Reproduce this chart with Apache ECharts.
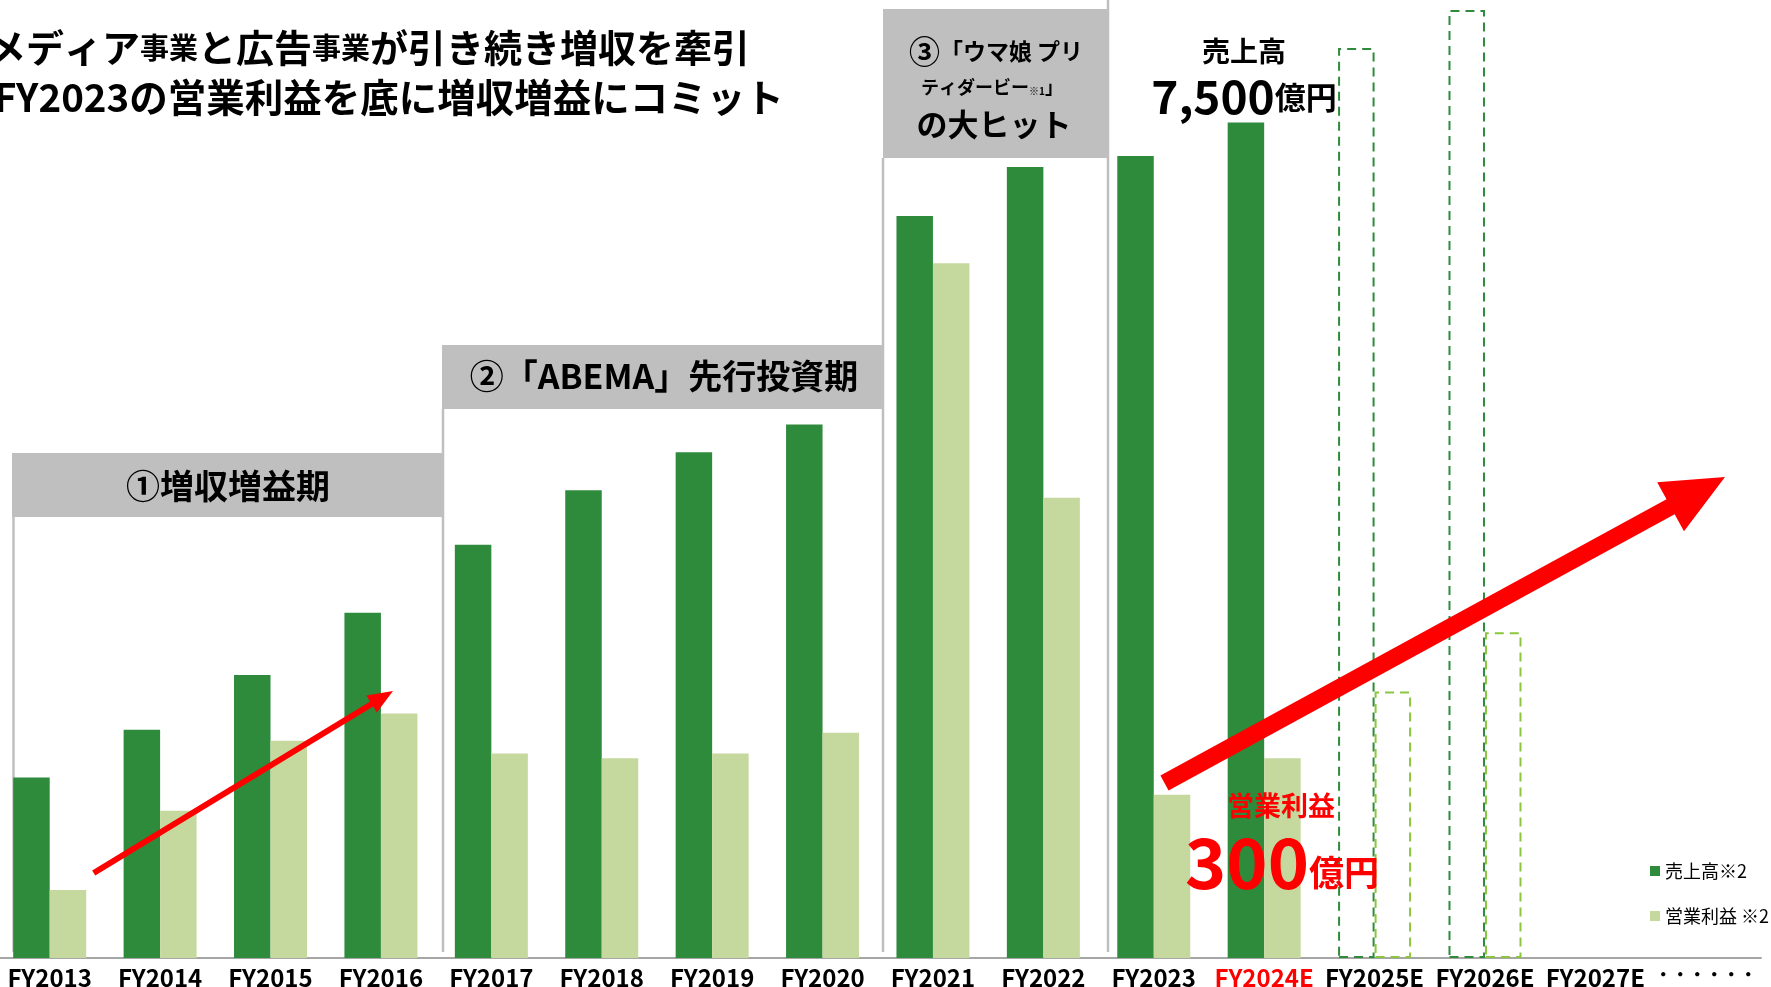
<!DOCTYPE html>
<html><head><meta charset="utf-8">
<script src="https://cdn.jsdelivr.net/npm/echarts@6/dist/echarts.min.js"></script>
<style>html,body{margin:0;padding:0;background:#fff}#c{width:1771px;height:987px}</style>
</head><body><div id="c"></div>
<script>
// ---- data (億円) ----
const categories = ['FY2013','FY2014','FY2015','FY2016','FY2017','FY2018','FY2019','FY2020','FY2021','FY2022','FY2023','FY2024E','FY2025E','FY2026E','FY2027E','・・・・・・'];
const revenue = [1620,2050,2540,3100,3710,4200,4540,4790,6660,7100,7200,7500,8170,8510,null,null];
const operatingProfit = [102,221,326,367,307,300,307,338,1043,691,245,300,400,489,null,null];
const forecastCategories = ['FY2025E','FY2026E'];
const highlightCategory = 'FY2024E';
const seriesNames = ['売上高※2','営業利益 ※2'];

const FONT = '"Noto Sans CJK JP","Noto Sans",sans-serif';
const DARK = '#2E8B3C', LIGHT = '#C5D89E', LIGHT_DASH = '#8CC63F', RED = '#FF0000', BOXGRAY = '#BFBFBF';

function buildData(values, dashColor){
  return values.map((v,i)=> forecastCategories.includes(categories[i])
    ? {value:v, itemStyle:{color:'rgba(255,255,255,0)', borderColor:dashColor, borderWidth:2, borderType:[9,6]}}
    : v);
}
function arrow(x1,y1,x2,y2,shaft,headLen,headW){
  const dx=x2-x1, dy=y2-y1, L=Math.hypot(dx,dy), ux=dx/L, uy=dy/L, px=-uy, py=ux;
  const bx=x2-ux*headLen, by=y2-uy*headLen;
  return [[x1+px*shaft/2,y1+py*shaft/2],[bx+px*shaft/2,by+py*shaft/2],[bx+px*headW/2,by+py*headW/2],[x2,y2],
          [bx-px*headW/2,by-py*headW/2],[bx-px*shaft/2,by-py*shaft/2],[x1-px*shaft/2,y1-py*shaft/2]];
}
const vline = (x,y1,y2)=>({type:'line',z:1,shape:{x1:x,y1:y1,x2:x,y2:y2},style:{stroke:BOXGRAY,lineWidth:2.5}});

const chart = echarts.init(document.getElementById('c'));
chart.setOption({
  animation:false,
  backgroundColor:'#fff',
  grid:{left:-5.5,right:10,top:0,bottom:29,containLabel:false,outerBoundsMode:'none'},
  legend:{data:seriesNames,orient:'vertical',left:1645,top:857,itemWidth:10,itemHeight:10,itemGap:27,icon:'rect',
    textStyle:{fontFamily:FONT,fontSize:18,color:'#000'}},
  xAxis:{type:'category',
    data:categories.map(c=> c===highlightCategory ? {value:c,textStyle:{color:RED}} : (c.startsWith('FY')? c : {value:c,textStyle:{fontSize:17}})),
    axisLine:{lineStyle:{color:'#A6A6A6',width:2}},axisTick:{show:false},
    axisLabel:{interval:0,margin:8,fontFamily:FONT,fontSize:24,fontWeight:'bold',color:'#000'}},
  yAxis:[{type:'value',min:0,max:8600,show:false},{type:'value',min:0,max:1438,show:false}],
  series:[
    {name:seriesNames[0],type:'bar',yAxisIndex:0,barWidth:36.5,barGap:'0%',itemStyle:{color:DARK},data:buildData(revenue,DARK)},
    {name:seriesNames[1],type:'bar',yAxisIndex:1,barWidth:36.5,barGap:'0%',itemStyle:{color:LIGHT},data:buildData(operatingProfit,LIGHT_DASH)}
  ],
  graphic:[
    // title
    {type:'text',left:-12,top:29,z:50,style:{rich:{b:{fontSize:38,fontWeight:'bold',fontFamily:FONT,fill:'#000'},s:{fontSize:29,fontWeight:'bold',fontFamily:FONT,fill:'#000'}},
      text:'{b|メディア}{s|事業}{b|と広告}{s|事業}{b|が引き続き増収を牽引}'}},
    {type:'text',left:-6,top:78,z:50,style:{text:'FY2023の営業利益を底に増収増益にコミット',font:'bold 38.5px '+FONT,fill:'#000'}},
    // period boxes
    {type:'rect',z:1,shape:{x:12,y:453,width:432,height:64},style:{fill:BOXGRAY}},
    {type:'rect',z:1,shape:{x:442,y:345,width:441,height:64},style:{fill:BOXGRAY}},
    {type:'rect',z:1,shape:{x:883,y:9,width:225,height:149},style:{fill:BOXGRAY}},
    vline(13.5,517,952), vline(443,409,952), vline(883,158,952), vline(1108,0,952),
    {type:'text',z:50,x:228,y:486,style:{text:'①増収増益期',font:'bold 34px '+FONT,fill:'#000',textAlign:'center',textVerticalAlign:'middle'}},
    {type:'text',z:50,x:664,y:376,style:{text:'②「ABEMA」先行投資期',font:'bold 34px '+FONT,fill:'#000',textAlign:'center',textVerticalAlign:'middle'}},
    {type:'text',z:50,x:996,y:51,style:{rich:{a:{fontSize:31,fontWeight:'bold',fontFamily:FONT,fill:'#000'},b:{fontSize:23,fontWeight:'bold',fontFamily:FONT,fill:'#000'}},
      text:'{a|③}{b|「ウマ娘 プリ}',textAlign:'center',textVerticalAlign:'middle'}},
    {type:'text',z:50,x:992,y:87,style:{rich:{b:{fontSize:18,fontWeight:'bold',fontFamily:FONT,fill:'#000'},s:{fontSize:10,fontWeight:'bold',fontFamily:FONT,fill:'#000',padding:[8,0,0,0]}},
      text:'{b|ティダービー}{s|※1}{b|」}',textAlign:'center',textVerticalAlign:'middle'}},
    {type:'text',z:50,x:994,y:124,style:{text:'の大ヒット',font:'bold 31px '+FONT,fill:'#000',textAlign:'center',textVerticalAlign:'middle'}},
    // revenue callout
    {type:'text',z:50,x:1244,y:51,style:{text:'売上高',font:'bold 28px '+FONT,fill:'#000',textAlign:'center',textVerticalAlign:'middle'}},
    {type:'text',z:50,x:1244,y:97,style:{rich:{n:{fontSize:46,fontWeight:'bold',fontFamily:FONT,fill:'#000'},u:{fontSize:31,fontWeight:'bold',fontFamily:FONT,fill:'#000'}},
      text:'{n|7,500}{u|億円}',textAlign:'center',textVerticalAlign:'middle'}},
    // arrows
    {type:'polygon',z:60,shape:{points:arrow(93.7,873,393,691,6,25,20)},style:{fill:RED}},
    {type:'polygon',z:60,shape:{points:arrow(1164.5,783,1725,477,17,62,56)},style:{fill:RED}},
    // operating-profit callout
    {type:'text',z:70,x:1281,y:806,style:{text:'営業利益',font:'bold 27px '+FONT,fill:RED,textAlign:'center',textVerticalAlign:'middle'}},
    {type:'text',z:70,x:1282,y:862,style:{rich:{n:{fontSize:70,fontWeight:'bold',fontFamily:FONT,fill:RED},u:{fontSize:35,fontWeight:'bold',fontFamily:FONT,fill:RED,padding:[22,0,0,0]}},
      text:'{n|300}{u|億円}',textAlign:'center',textVerticalAlign:'middle'}}
  ]
});
</script></body></html>
